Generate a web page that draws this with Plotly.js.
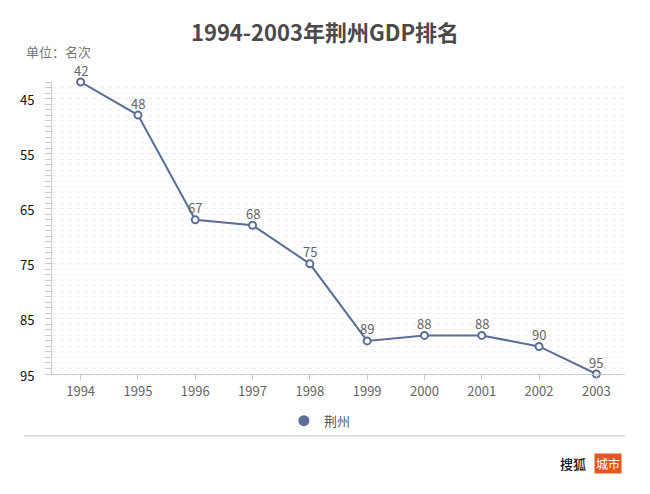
<!DOCTYPE html>
<html><head><meta charset="utf-8">
<script src="https://cdn.plot.ly/plotly-3.0.1.min.js"></script>
<style>body{margin:0;background:#fff}#c{width:650px;height:494px}</style>
</head><body><div id="c"></div>
<script>
const years = ['1994','1995','1996','1997','1998','1999','2000','2001','2002','2003'];
const ranks = [42, 48, 67, 68, 75, 89, 88, 88, 90, 95];
const yTicks = [45, 55, 65, 75, 85, 95];
const seriesName = '荆州';
const F = '"Noto Sans CJK SC", "Noto Sans", sans-serif';
const lineColor = '#5b6e96';

const labelAnns = years.map((yr, i) => ({
  x: i, y: ranks[i], xref: 'x', yref: 'y', text: String(ranks[i]),
  showarrow: false, yanchor: 'middle', yshift: 12,
  font: {family: F, size: 13, color: '#666'}
}));

Plotly.newPlot('c', [{
  x: years, y: ranks, name: seriesName, type: 'scatter',
  mode: 'lines+markers', showlegend: false,
  line: {color: lineColor, width: 2},
  marker: {symbol: 'circle', size: 7, color: '#fff', line: {color: lineColor, width: 2}},
  cliponaxis: false
}, {
  x: [years[0]], y: [null], name: seriesName, type: 'scatter', mode: 'markers',
  marker: {symbol: 'circle', size: 11, color: lineColor}, showlegend: true, hoverinfo: 'skip'
}], {
  width: 650, height: 494,
  margin: {l: 52, r: 25, t: 82, b: 120},
  paper_bgcolor: '#fff', plot_bgcolor: '#fff',
  font: {family: F, color: '#666'},
  title: {text: '1994-2003年荆州GDP排名', font: {family: F, size: 22, weight: 'bold', color: '#4a4a4a'},
          x: 0.5, xanchor: 'center', y: 1 - 33/494, yanchor: 'middle'},
  xaxis: {type: 'category', range: [-0.5, 9.5], showline: true, linecolor: '#ccc',
          ticks: 'outside', ticklen: 5, tickcolor: '#ccc', showgrid: false,
          tickfont: {family: F, size: 13, color: '#666'}, zeroline: false, fixedrange: true},
  yaxis: {autorange: false, range: [95, 42], tickvals: yTicks, ticktext: yTicks.map(String),
          showline: true, linecolor: '#ccc', ticks: 'outside', ticklen: 6, tickcolor: '#ccc',
          showgrid: true, gridcolor: '#ebebeb', griddash: '4px,4px', zeroline: false,
          ticklabelstandoff: 8, ticklabelshift: -2,
          tickfont: {family: F, size: 13, color: '#111'},
          minor: {dtick: 1, tick0: 45, ticks: 'outside', ticklen: 6, tickcolor: '#ccc',
                  showgrid: true, gridcolor: '#f0f0f0', griddash: '4px,4px'}},
  showlegend: true,
  legend: {orientation: 'h', x: 0.4675, xanchor: 'center', y: -0.16, yanchor: 'middle',
           bgcolor: 'rgba(0,0,0,0)',
           font: {family: F, size: 13, color: '#555'}, itemwidth: 30},
  shapes: [{type: 'line', xref: 'paper', yref: 'paper', x0: -0.049, x1: 1.0,
            y0: -0.212, y1: -0.212, line: {color: '#ccc', width: 1}}],
  annotations: labelAnns.concat([
    {text: '单位：名次', xref: 'paper', yref: 'paper', x: -0.049, y: 1.104,
     xanchor: 'left', yanchor: 'middle', showarrow: false,
     font: {family: F, size: 13, color: '#777'}},
    {text: '搜狐', xref: 'paper', yref: 'paper', x: 0.935, y: -0.308,
     xanchor: 'right', yanchor: 'middle', showarrow: false,
     font: {family: F, size: 13, weight: 500, color: '#111'}},
    {text: '城市', xref: 'paper', yref: 'paper', x: 0.995, y: -0.308,
     xanchor: 'right', yanchor: 'middle', showarrow: false, bgcolor: '#e8561e',
     borderpad: 1, font: {family: F, size: 12, color: '#fff'}}
  ])
}, {displayModeBar: false, staticPlot: true});
</script></body></html>
